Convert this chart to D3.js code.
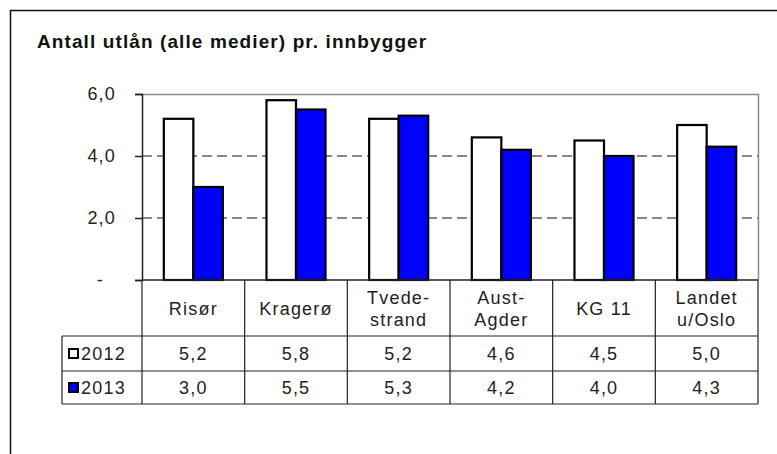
<!DOCTYPE html>
<html>
<head>
<meta charset="utf-8">
<script src="https://cdn.jsdelivr.net/npm/d3@7"></script>
<style>
  html, body { margin: 0; padding: 0; background: #fff; }
  svg { display: block; font-family: Arial, "Liberation Sans", sans-serif; }
</style>
</head>
<body>
<svg id="chart" width="777" height="454"></svg>
<script>
// Utlån per innbygger, 2012 og 2013
const title = "Antall utlån (alle medier) pr. innbygger";
const categories = [["Risør"], ["Kragerø"], ["Tvede-", "strand"], ["Aust-", "Agder"], ["KG 11"], ["Landet", "u/Oslo"]];
const seriesNames = ["2012", "2013"];
const values2012 = [5.2, 5.8, 5.2, 4.6, 4.5, 5.0];
const values2013 = [3.0, 5.5, 5.3, 4.2, 4.0, 4.3];
const yTicks = [0, 2, 4, 6];
const seriesColors = ["#ffffff", "#0000ff"];

const series = [values2012, values2013];
const fmt = v => v === 0 ? "-" : d3.format(".1f")(v).replace(".", ",");

const svg = d3.select("#chart");
const plot = { left: 142, right: 758, top: 94, bottom: 280 };
const tableRows = [280, 336, 371, 404];
const legendLeft = 62;
const textColor = "#222";

// outer frame of the chart object
svg.append("path")
  .attr("d", "M10.5,800 V10.5 H900")
  .attr("fill", "none").attr("stroke", "#111").attr("stroke-width", 1.5);

svg.append("text")
  .attr("x", 37).attr("y", 48)
  .attr("font-size", 19).attr("font-weight", "bold")
  .attr("letter-spacing", 1.1)
  .attr("fill", "#111")
  .text(title);

const x = d3.scaleBand()
  .domain(d3.range(categories.length))
  .range([plot.left, plot.right])
  .paddingInner(0.425).paddingOuter(0.2125);
const step = x.step();
const xSub = d3.scaleBand().domain(d3.range(seriesNames.length)).range([0, x.bandwidth()]);
const y = d3.scaleLinear().domain([0, 6]).range([plot.bottom, plot.top]);

// plot area border (top and right in grey)
svg.append("path")
  .attr("d", `M${plot.left},${plot.top + 0.5} H${plot.right + 0.5} V${plot.bottom}`)
  .attr("fill", "none").attr("stroke", "#8c8c8c").attr("stroke-width", 1.5);

// dashed gridlines
svg.append("g").selectAll("line")
  .data(yTicks.filter(t => t > 0 && t < 6))
  .join("line")
  .attr("x1", plot.left).attr("x2", plot.right)
  .attr("y1", d => y(d)).attr("y2", d => y(d))
  .attr("stroke", "#111").attr("stroke-width", 1)
  .attr("stroke-dasharray", "10,5");

// bars
const groups = svg.append("g").selectAll("g")
  .data(categories.map((c, i) => i))
  .join("g")
  .attr("transform", i => `translate(${x(i)},0)`);
groups.selectAll("rect")
  .data(i => series.map((s, k) => ({ k, v: s[i] })))
  .join("rect")
  .attr("x", d => xSub(d.k))
  .attr("width", xSub.bandwidth())
  .attr("y", d => y(d.v))
  .attr("height", d => y(0) - y(d.v))
  .attr("fill", d => seriesColors[d.k])
  .attr("stroke", "#000").attr("stroke-width", 2.2);

// y axis
const yAxis = d3.axisLeft(y).tickValues(yTicks).tickFormat(fmt).tickSize(7).tickPadding(19);
const gy = svg.append("g").attr("transform", `translate(${plot.left},0)`).call(yAxis);
gy.select(".domain").attr("stroke", "#222").attr("stroke-width", 1.5);
gy.selectAll(".tick line").attr("stroke", "#222").attr("stroke-width", 1.5);
gy.selectAll(".tick text")
  .attr("font-size", 18).attr("letter-spacing", 1.2).attr("fill", textColor)
  .attr("font-family", "Arial, 'Liberation Sans', sans-serif")
  .attr("dx", d => d === 0 ? -12 : 0);

// data table
const table = svg.append("g").attr("stroke", "#222").attr("stroke-width", 1.2);
table.append("line").attr("x1", plot.left).attr("x2", plot.right).attr("y1", tableRows[0]).attr("y2", tableRows[0]).attr("stroke-width", 1.5);
[1, 2, 3].forEach(r => table.append("line")
  .attr("x1", legendLeft).attr("x2", plot.right)
  .attr("y1", tableRows[r]).attr("y2", tableRows[r]));
table.append("line").attr("x1", legendLeft).attr("x2", legendLeft).attr("y1", tableRows[1]).attr("y2", tableRows[3]);
d3.range(categories.length + 1).forEach(i => table.append("line")
  .attr("x1", plot.left + i * step).attr("x2", plot.left + i * step)
  .attr("y1", tableRows[0]).attr("y2", tableRows[3]));

// category labels in header row
const headerMid = (tableRows[0] + tableRows[1]) / 2;
svg.append("g").selectAll("text")
  .data(categories)
  .join("text")
  .attr("text-anchor", "middle")
  .attr("font-size", 18).attr("letter-spacing", 1.2).attr("fill", textColor)
  .attr("transform", (c, i) => `translate(${plot.left + (i + 0.5) * step},${headerMid})`)
  .each(function (lines) {
    const t = d3.select(this);
    lines.forEach((line, j) => {
      t.append("tspan").attr("x", 0)
        .attr("y", (j - (lines.length - 1) / 2) * 22 + 6.5)
        .text(line);
    });
  });

// value rows
series.forEach((s, k) => {
  const rowMid = (tableRows[k + 1] + tableRows[k + 2]) / 2;
  svg.append("g").selectAll("text")
    .data(s)
    .join("text")
    .attr("x", (v, i) => plot.left + (i + 0.5) * step)
    .attr("y", rowMid + 6.5)
    .attr("text-anchor", "middle")
    .attr("font-size", 18).attr("letter-spacing", 1.2).attr("fill", textColor)
    .text(fmt);

  // legend key and series name
  svg.append("rect")
    .attr("x", 69).attr("y", rowMid - 4.5)
    .attr("width", 9).attr("height", 9)
    .attr("fill", seriesColors[k])
    .attr("stroke", "#000").attr("stroke-width", 2);
  svg.append("text")
    .attr("x", 81).attr("y", rowMid + 6.5)
    .attr("font-size", 18).attr("letter-spacing", 1.2).attr("fill", textColor)
    .text(seriesNames[k]);
});
</script>
</body>
</html>
